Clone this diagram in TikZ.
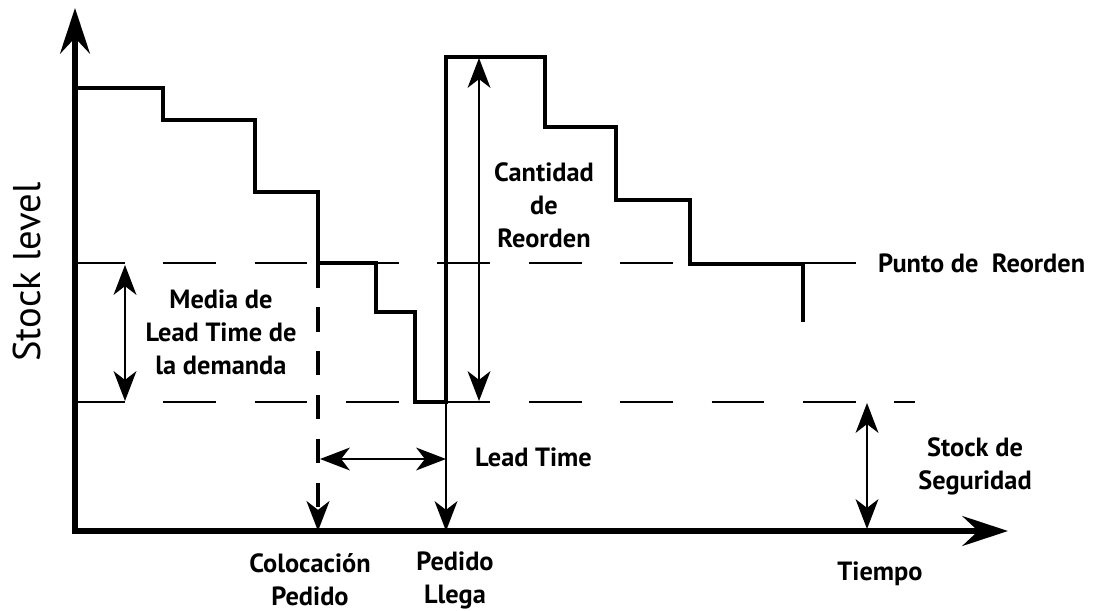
\documentclass[tikz,border=0pt]{standalone}
\usepackage{fontspec}
\setmainfont{PT Sans}
\usetikzlibrary{arrows.meta}
\tikzset{
  axis/.style={line width=3pt, {Stealth[length=26pt,width=17pt,inset=9pt]}-{Stealth[length=26pt,width=17pt,inset=9pt]}},
  stock/.style={line width=2.7pt, line join=miter},
  level/.style={line width=0.85pt, dash pattern=on 30pt off 22pt},
  tip/.style={-{Stealth[length=17pt,width=13pt,inset=5pt]}},
  dim/.style={line width=1pt, {Stealth[length=17pt,width=13pt,inset=5pt]}-{Stealth[length=17pt,width=13pt,inset=5pt]}},
  lbl/.style={font=\fontsize{15}{18.7}\selectfont\bfseries, align=center},
}
\begin{document}
\begin{tikzpicture}[x=0.02cm,y=-0.02cm]
  \useasboundingbox (0,0) rectangle (1114,611);
  % axes
  \coordinate (O) at (75,531);
  \coordinate (ytop) at (75,8);
  \coordinate (xend) at (1008,531);
  \draw[axis] (ytop) -- (O) -- (xend);
  % reorder point and safety stock levels
  \coordinate (rop) at (72,263);
  \coordinate (rop end) at (858,263);
  \coordinate (ss) at (72,402);
  \coordinate (ss end) at (915,402);
  \draw[level] (rop) -- (rop end);
  \draw[level] (ss) -- (ss end);
  % stock level
  \draw[stock] (75,88) -- (163,88) -- (163,120) -- (255,120) -- (255,192)
    -- (318,192) -- (318,263) -- (376,263) -- (376,312) -- (415,312)
    -- (415,402) -- (446,402) -- (446,57) -- (545,57) -- (545,127)
    -- (616,127) -- (616,200) -- (690,200) -- (690,264) -- (803,264)
    -- (803,322);
  % order placed / order arrives
  \coordinate (place top) at (318,263);
  \coordinate (place) at (318,531);
  \coordinate (arrive top) at (446,402);
  \coordinate (arrive) at (446,531);
  \draw[tip, line width=2pt, dash pattern=on 14pt off 11pt] (place top) -- (place);
  \draw[tip, line width=1pt] (arrive top) -- (arrive);
  % dimensions
  \coordinate (lt a) at (320,459);
  \coordinate (lt b) at (446,459);
  \draw[dim] (lt a) -- (lt b);
  \coordinate (dem a) at (125,265);
  \coordinate (dem b) at (125,401);
  \draw[dim] (dem a) -- (dem b);
  \coordinate (q a) at (479,58);
  \coordinate (q b) at (479,401);
  \draw[dim] (q a) -- (q b);
  \coordinate (ss a) at (867,403);
  \coordinate (ss b) at (867,529);
  \draw[dim] (ss a) -- (ss b);
  % labels
  \node[rotate=90, font=\fontsize{22}{26}\selectfont] (ylabel) at (27,272) {Stock level};
  \node[lbl] (demand) at (221,332) {Media de\\Lead Time de\\la demanda};
  \node[lbl] (qty) at (544,205) {Cantidad\\de\\Reorden};
  \node[lbl, anchor=west] (roplabel) at (872,263) {Punto de~~Reorden};
  \node[lbl, anchor=west] (ltlabel) at (469,457) {Lead Time};
  \node[lbl] (sslabel) at (975,466) {Stock de\\Seguridad};
  \node[lbl] (time) at (880,574) {Tiempo};
  \node[lbl] (placelabel) at (310,580) {Colocación\\Pedido};
  \node[lbl] (arrivelabel) at (455,580) {Pedido\\Llega};
\end{tikzpicture}
\end{document}
